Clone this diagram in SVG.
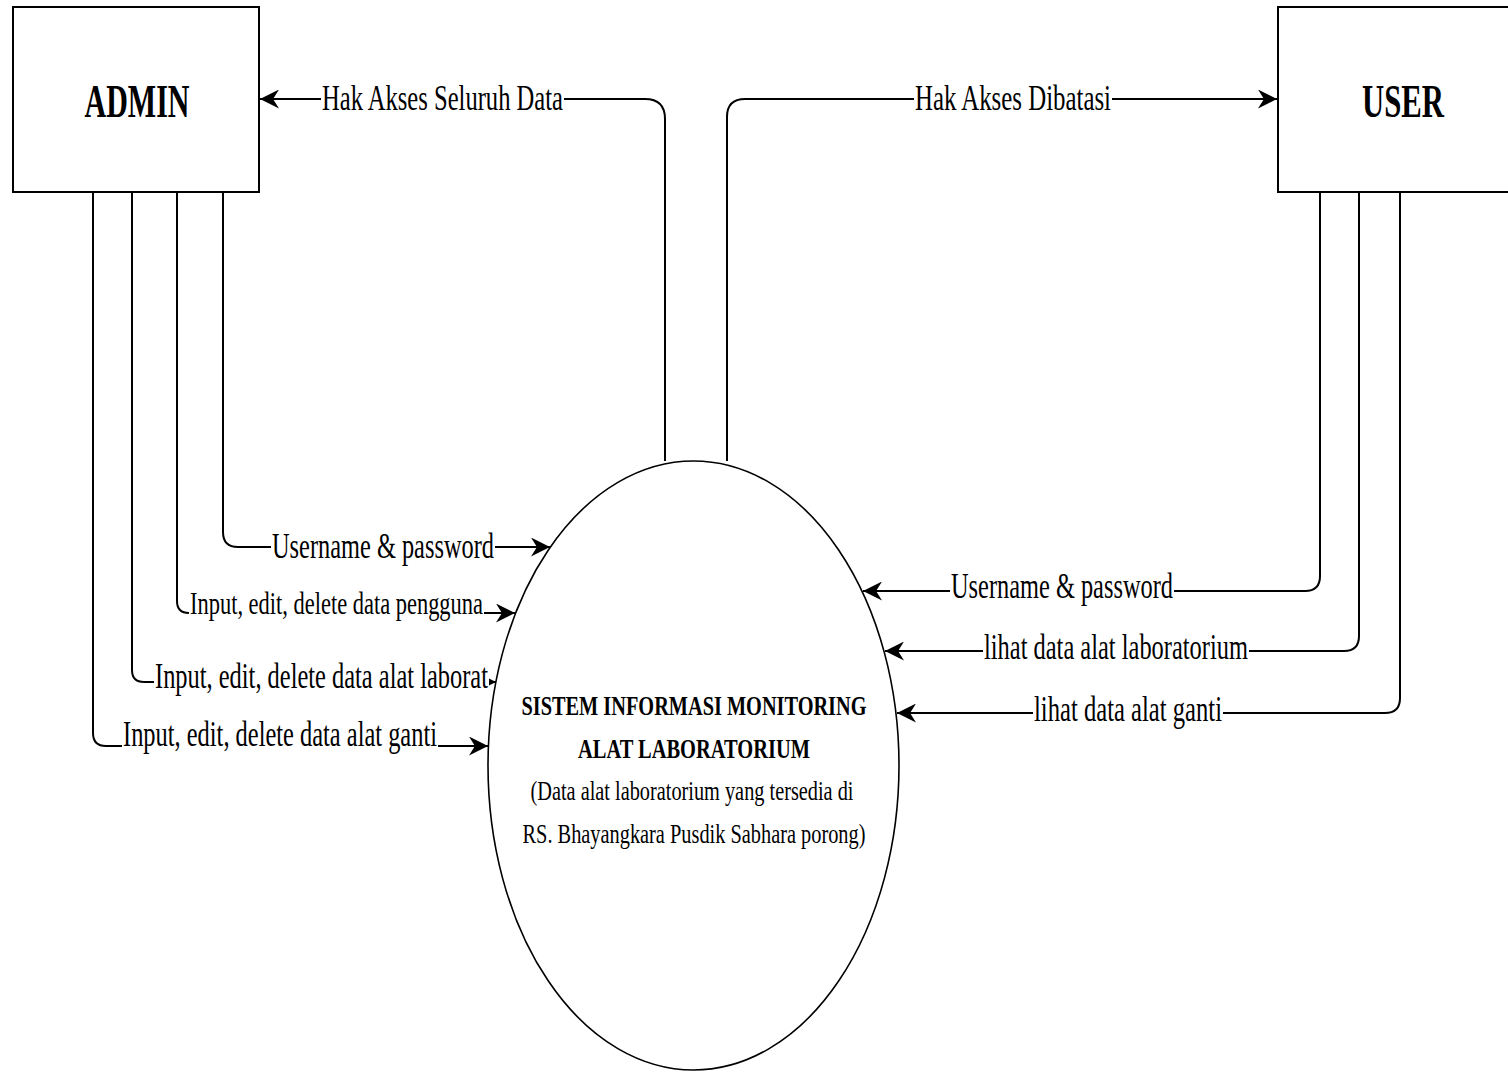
<svg xmlns="http://www.w3.org/2000/svg" width="1508" height="1073" viewBox="0 0 1508 1073">
<style>
  .box{fill:#fff;stroke:#000;stroke-width:2}
  .ell{fill:#fff;stroke:#000;stroke-width:1.6}
  .ln{fill:none;stroke:#000;stroke-width:2}
  .bg{fill:#fff}
  text{font-family:"Liberation Serif","Times New Roman",serif;fill:#000}
  .ttl{font-size:46px;font-weight:bold}
  .lbl{font-size:36px}
  .lbs{font-size:31px}
  .pb{font-size:28px;font-weight:bold}
  .pn{font-size:28px}
</style>
<defs>
  <marker id="arr" viewBox="0 0 16 16" refX="16" refY="8" markerWidth="19" markerHeight="19" markerUnits="userSpaceOnUse" orient="auto">
    <path d="M0,0 L16,8 L0,16 L5,8 Z" fill="#000"/>
  </marker>
  <marker id="arrs" viewBox="0 0 16 16" refX="16" refY="8" markerWidth="9" markerHeight="9" markerUnits="userSpaceOnUse" orient="auto">
    <path d="M0,0 L16,8 L0,16 L5,8 Z" fill="#000"/>
  </marker>
</defs>
<rect width="1508" height="1073" fill="#fff"/>

<g id="node-admin">
  <rect class="box" x="13" y="7" width="246" height="185"/>
  <text class="ttl" x="137" y="117" text-anchor="middle" textLength="105" lengthAdjust="spacingAndGlyphs">ADMIN</text>
</g>
<g id="node-user">
  <rect class="box" x="1278" y="7" width="260" height="185"/>
  <text class="ttl" x="1403" y="117" text-anchor="middle" textLength="82" lengthAdjust="spacingAndGlyphs">USER</text>
</g>
<g id="node-sistem">
  <ellipse class="ell" cx="693.5" cy="765.5" rx="205.5" ry="304.5"/>
  <text class="pb" x="694" y="715" text-anchor="middle" textLength="345" lengthAdjust="spacingAndGlyphs">SISTEM INFORMASI MONITORING</text>
  <text class="pb" x="694" y="758" text-anchor="middle" textLength="232" lengthAdjust="spacingAndGlyphs">ALAT LABORATORIUM</text>
  <text class="pn" x="692" y="800" text-anchor="middle" textLength="323" lengthAdjust="spacingAndGlyphs">(Data alat laboratorium yang tersedia di</text>
  <text class="pn" x="694" y="843" text-anchor="middle" textLength="343" lengthAdjust="spacingAndGlyphs">RS. Bhayangkara Pusdik Sabhara porong)</text>
</g>

<g id="connectors">
  <path class="ln" d="M665,461 L665,119 Q665,99 645,99 L260,99" marker-end="url(#arr)"/>
  <path class="ln" d="M727,461 L727,117 Q727,99 745,99 L1277,99" marker-end="url(#arr)"/>
  <path class="ln" d="M223,192 L223,532 Q223,547 238,547 L550,547" marker-end="url(#arr)"/>
  <path class="ln" d="M177,192 L177,601 Q177,613 189,613 L515,613" marker-end="url(#arr)"/>
  <path class="ln" d="M132,192 L132,670 Q132,682 144,682 L496,682" marker-end="url(#arrs)"/>
  <path class="ln" d="M93,192 L93,733 Q93,746 106,746 L488,746" marker-end="url(#arr)"/>
  <path class="ln" d="M1320,192 L1320,576 Q1320,591 1305,591 L863,591" marker-end="url(#arr)"/>
  <path class="ln" d="M1359,192 L1359,636 Q1359,651 1344,651 L885,651" marker-end="url(#arr)"/>
  <path class="ln" d="M1400,192 L1400,698 Q1400,713 1385,713 L897,713" marker-end="url(#arr)"/>

  <g id="labels">
    <rect class="bg" x="321" y="84" width="243" height="32"/>
    <text class="lbl" x="322" y="110" textLength="241" lengthAdjust="spacingAndGlyphs">Hak Akses Seluruh Data</text>
    <rect class="bg" x="914" y="84" width="198" height="32"/>
    <text class="lbl" x="915" y="110" textLength="196" lengthAdjust="spacingAndGlyphs">Hak Akses Dibatasi</text>

    <rect class="bg" x="271" y="532" width="224" height="32"/>
    <text class="lbl" x="272" y="558" textLength="222" lengthAdjust="spacingAndGlyphs">Username &amp; password</text>
    <rect class="bg" x="189" y="592" width="295" height="28"/>
    <text class="lbs" x="190" y="614" textLength="293" lengthAdjust="spacingAndGlyphs">Input, edit, delete data pengguna</text>
    <rect class="bg" x="154" y="662" width="335" height="32"/>
    <text class="lbl" x="155" y="688" textLength="333" lengthAdjust="spacingAndGlyphs">Input, edit, delete data alat laborat</text>
    <rect class="bg" x="122" y="722" width="316" height="33"/>
    <text class="lbl" x="123" y="746" textLength="314" lengthAdjust="spacingAndGlyphs">Input, edit, delete data alat ganti</text>

    <rect class="bg" x="950" y="572" width="224" height="32"/>
    <text class="lbl" x="951" y="598" textLength="222" lengthAdjust="spacingAndGlyphs">Username &amp; password</text>
    <rect class="bg" x="983" y="633" width="266" height="32"/>
    <text class="lbl" x="984" y="659" textLength="264" lengthAdjust="spacingAndGlyphs">lihat data alat laboratorium</text>
    <rect class="bg" x="1033" y="695" width="190" height="32"/>
    <text class="lbl" x="1034" y="721" textLength="188" lengthAdjust="spacingAndGlyphs">lihat data alat ganti</text>
  </g>
</g>
</svg>
